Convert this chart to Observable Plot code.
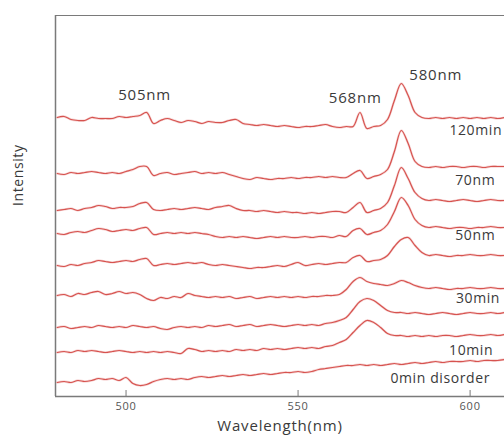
<!DOCTYPE html>
<html>
<head>
<meta charset="utf-8">
<script src="https://cdn.jsdelivr.net/npm/d3@7"></script>
<script src="https://cdn.jsdelivr.net/npm/@observablehq/plot@0.6"></script>
<style>
  html, body { margin: 0; padding: 0; background: #fff; overflow: hidden; }
  #chart svg { display: block; }
  .ann text { letter-spacing: 0.8px; }
  .lbl text { letter-spacing: 0.6px; }
  .xt text { letter-spacing: 0.8px; }
</style>
</head>
<body>
<div id="chart"></div>
<script>
// Sampled wavelengths (nm)
const wavelengths = d3.range(480, 611, 2);

// Relative intensity of each spectrum (top to bottom), one value per wavelength
const s1 = [0,1,-2,-3,-3,0,-1,-1,-1,1,0,1,2,5,-6,-3,-1,-3,-5,-3,-4,-6,-4,-5,-5,-3,-2,-6,-7,-8,-7,-8,-9,-8,-9,-10,-9,-9,-8,-7,-9,-10,-9,-9,5,-11,-9,-8,-2,17,34,22,5,0,-1,0,-1,0,-1,0,-1,0,-1,0,-1,0];
const s2 = [0,-1,1,0,1,2,1,0,1,0,2,4,7,7,-2,0,1,-1,0,1,2,0,1,0,1,-1,-3,-5,-6,-4,-5,-6,-5,-5,-4,-5,-4,-4,-3,-4,-3,-4,-4,0,3,-5,-3,-1,4,22,43,30,12,7,6,7,6,7,7,6,7,7,6,7,7,7];
const s3 = [0,1,2,0,2,3,5,4,2,3,3,4,7,8,1,0,1,2,1,2,3,2,1,3,4,5,2,0,0,-1,0,-1,-2,-1,-2,-2,-3,-2,-3,-2,-1,-1,-2,3,8,-2,0,2,8,25,43,32,18,12,10,11,10,9,10,11,10,9,10,11,10,10];
const s4 = [0,-1,1,2,1,3,5,4,2,3,4,3,5,6,-1,0,1,0,1,0,1,0,-1,-3,-4,-3,-4,-3,-4,-5,-4,-3,-4,-3,-4,-4,-3,-4,-3,-3,-4,-2,-3,3,5,-1,1,3,9,22,36,28,14,8,6,7,6,5,6,6,5,6,6,7,6,6];
const s5 = [0,-1,1,0,2,3,5,4,3,4,5,4,6,7,0,1,2,1,2,3,2,3,1,0,1,0,-1,-2,-3,-2,-2,-1,0,-1,1,3,0,1,2,1,2,3,3,8,10,4,5,6,10,19,26,28,20,13,10,11,10,9,10,10,11,10,10,11,10,10];
const s6 = [0,1,-1,2,1,3,4,1,2,4,2,3,1,-3,-5,-2,-3,-1,-2,2,0,-1,-2,-1,-2,-1,-3,-2,-1,-3,-2,-1,-2,-1,-2,-1,-2,-1,-1,0,0,1,6,14,18,14,12,11,10,12,15,13,10,8,7,8,7,6,7,7,8,7,7,8,7,7];
const s7 = [0,1,-1,0,1,0,2,1,0,1,0,2,1,0,1,-1,-2,0,1,0,1,0,2,1,2,3,1,2,3,1,2,3,2,1,2,3,2,3,2,4,5,7,10,18,26,29,27,22,17,15,15,14,15,14,13,14,15,14,13,14,15,14,14,15,14,15];
const s8 = [0,1,0,2,1,2,1,0,1,2,1,0,1,0,1,0,1,0,-1,4,3,1,2,1,2,1,3,2,3,2,4,3,4,3,4,5,4,5,4,6,7,10,13,20,27,32,30,25,19,17,17,16,17,16,17,16,17,17,16,17,18,17,17,18,17,18];
const s9 = [0,1,0,2,1,2,4,3,4,2,5,-1,-3,-2,1,3,4,3,4,3,5,6,5,6,7,6,7,8,7,8,9,8,9,10,10,11,10,11,13,14,15,16,17,17,18,17,18,17,18,19,18,19,20,19,20,21,20,21,21,21,22,21,22,22,22,23];
const spectra = [s1, s2, s3, s4, s5, s6, s7, s8, s9];
// Vertical offset (stacking) of each spectrum
const offsets = [279, 223, 186, 163, 131, 101, 69, 44, 14];

// Series labels at right (text, anchor wavelength, anchor intensity)
const seriesLabels = ["120min", "70nm", "50nm", "30min", "10min", "0min disorder"];
const seriesLabelX = [609.3, 607.3, 607.3, 608.7, 606.7, 605.8];
const seriesLabelY = [266, 216, 161, 98, 46, 18];

// Peak annotations
const peakLabels = ["505nm", "568nm", "580nm"];
const peakLabelX = [505.4, 566.6, 590];
const peakLabelY = [301, 298, 321];

const xTicks = [500, 550, 600];
const xDomain = [479.5, 610];
const yDomain = [0, 381];

const rows = [];
spectra.forEach((s, i) => s.forEach((v, j) => rows.push({series: i, wl: wavelengths[j], y: offsets[i] + v})));
const lbls = seriesLabels.map((t, i) => ({t, x: seriesLabelX[i], y: seriesLabelY[i]}));
const peaks = peakLabels.map((t, i) => ({t, x: peakLabelX[i], y: peakLabelY[i]}));

const axisColor = "#7a7a7a";
const textColor = "#3a3a3a";
const font = "'Open Sans', sans-serif";

const chart = Plot.plot({
  width: 504,
  height: 435,
  marginLeft: 55,
  marginRight: 0,
  marginTop: 15,
  marginBottom: 39,
  style: {fontFamily: font, background: "#fff"},
  x: {domain: xDomain, axis: null},
  y: {domain: yDomain, axis: null},
  marks: [
    Plot.ruleY([yDomain[1]], {stroke: axisColor, strokeWidth: 1.2}),
    Plot.ruleX([xDomain[0]], {stroke: axisColor, strokeWidth: 1.5}),
    Plot.ruleY([yDomain[0]], {stroke: axisColor, strokeWidth: 1.5}),
    Plot.axisX({ticks: xTicks, tickSize: -6, tickPadding: 12, fontSize: 11, color: "#555", stroke: axisColor, label: null, className: "xt"}),
    Plot.line(rows, {x: "wl", y: "y", z: "series", stroke: "#f0b0b0", strokeWidth: 2.4, curve: "catmull-rom", strokeOpacity: 0.5}),
    Plot.line(rows, {x: "wl", y: "y", z: "series", stroke: "#d6534f", strokeWidth: 1.2, curve: "catmull-rom", strokeLinejoin: "round"}),
    Plot.text(lbls, {x: "x", y: "y", text: "t", textAnchor: "end", fontSize: 14, fill: textColor, className: "lbl"}),
    Plot.text(peaks, {x: "x", y: "y", text: "t", fontSize: 15, fill: textColor, className: "ann"}),
    Plot.text(["Intensity"], {frameAnchor: "left", text: d => d, rotate: -90, dx: -37, fontSize: 14, fill: textColor, className: "lbl"}),
    Plot.text(["Wavelength(nm)"], {frameAnchor: "bottom", text: d => d, dy: 34, fontSize: 15, fill: textColor, className: "ann"})
  ]
});
document.getElementById("chart").append(chart);
</script>
</body>
</html>
